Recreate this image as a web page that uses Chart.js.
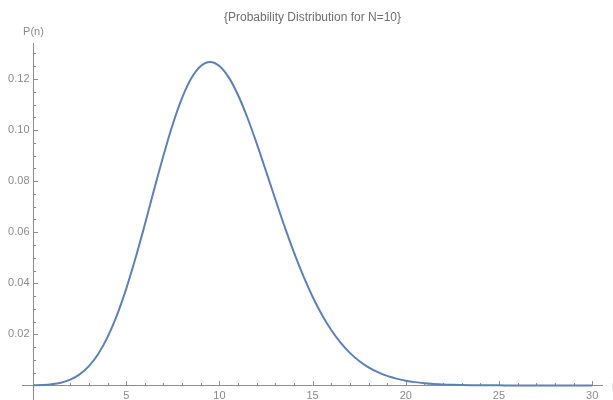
<!DOCTYPE html>
<html lang="en">
<head>
    <meta charset="UTF-8">
    <title>Probability Distribution for N=10</title>
    <script src="https://cdn.jsdelivr.net/npm/chart.js"></script>
    <style>
        body { margin: 0; background: #fff; }
        #wrap { width: 613px; height: 400px; }
    </style>
</head>
<body>
    <div id="wrap"><canvas id="distChart" width="613" height="400"></canvas></div>

    <script>
        // n values (step 0.5) and the P(n)
        const nValues = [
            0, 0.5, 1, 1.5, 2, 2.5, 3, 3.5, 4, 4.5,
            5, 5.5, 6, 6.5, 7, 7.5, 8, 8.5, 9, 9.5,
            10, 10.5, 11, 11.5, 12, 12.5, 13, 13.5, 14, 14.5,
            15, 15.5, 16, 16.5, 17, 17.5, 18, 18.5, 19, 19.5,
            20, 20.5, 21, 21.5, 22, 22.5, 23, 23.5, 24, 24.5,
            25, 25.5, 26, 26.5, 27, 27.5, 28, 28.5, 29, 29.5, 30
        ];
        const pValues = [
            0.0000454, 0.000162, 0.000454, 0.00108, 0.00227, 0.00432, 0.00757, 0.01234, 0.01892, 0.02743,
            0.03783, 0.04987, 0.06306, 0.07673, 0.09008, 0.10230, 0.11260, 0.12035, 0.12511, 0.12669,
            0.12511, 0.12065, 0.11374, 0.10492, 0.09478, 0.08393, 0.07291, 0.06217, 0.05208, 0.04288,
            0.03472, 0.02766, 0.02170, 0.01677, 0.01276, 0.00958, 0.00709, 0.00518, 0.00373, 0.00266,
            0.00187, 0.00130, 0.00089, 0.00060, 0.00040, 0.00027, 0.00018, 0.00011, 0.00007, 0.00005,
            0.00003, 0.00002, 0.00001, 0.000007, 0.000004, 0.0000025, 0.0000015, 0.0000009, 0.0000005, 0.0000003, 0.0000002
        ];

        // tick labels
        const xTickValues = [5, 10, 15, 20, 25, 30];
        const xTickLabels = ['5', '10', '15', '20', '25', '30'];
        const yTickValues = [0.02, 0.04, 0.06, 0.08, 0.10, 0.12];
        const yTickLabels = ['0.02', '0.04', '0.06', '0.08', '0.10', '0.12'];

        const axisColor = '#8c8c8c';
        const labelColor = '#8a8a8a';

        // Mathematica-style axes crossing at the origin, ticks pointing inward
        const axesPlugin = {
            id: 'originAxes',
            beforeDatasetsDraw(chart) {
                const { ctx, chartArea, scales: { x, y } } = chart;
                const x0 = Math.round(x.getPixelForValue(0)) + 0.5;
                const y0 = Math.round(y.getPixelForValue(0)) + 0.5;
                ctx.save();
                ctx.strokeStyle = axisColor;
                ctx.lineWidth = 1;

                ctx.beginPath();
                ctx.moveTo(chartArea.left, y0);
                ctx.lineTo(chartArea.right, y0);
                ctx.moveTo(x0, chartArea.top);
                ctx.lineTo(x0, chartArea.bottom);

                // x ticks: major every 5, minor every 1
                for (let v = 1; v <= 30; v++) {
                    const px = Math.round(x.getPixelForValue(v)) + 0.5;
                    const len = v % 5 === 0 ? 4.5 : 2.5;
                    ctx.moveTo(px, y0);
                    ctx.lineTo(px, y0 - len);
                }
                // y ticks: major every 0.02, minor every 0.005
                for (let k = 1; k <= 26; k++) {
                    const py = Math.round(y.getPixelForValue(k * 0.005)) + 0.5;
                    const len = k % 4 === 0 ? 4.5 : 2.5;
                    ctx.moveTo(x0, py);
                    ctx.lineTo(x0 + len, py);
                }
                ctx.stroke();

                ctx.fillStyle = labelColor;
                ctx.font = '11px "Liberation Sans", Arial, sans-serif';
                ctx.textAlign = 'center';
                ctx.textBaseline = 'middle';
                xTickValues.forEach((v, i) => {
                    ctx.fillText(xTickLabels[i], x.getPixelForValue(v), y0 + 10);
                });
                ctx.textAlign = 'right';
                yTickValues.forEach((v, i) => {
                    ctx.fillText(yTickLabels[i], x0 - 4, y.getPixelForValue(v));
                });

                // axis labels (the n label is cut off by the right edge)
                ctx.textAlign = 'center';
                ctx.fillText('P(n)', x0, 32);
                ctx.textAlign = 'left';
                ctx.fillText('n', 612, y0);
                ctx.restore();
            }
        };

        new Chart(document.getElementById('distChart'), {
            type: 'line',
            data: {
                datasets: [{
                    data: nValues.map((n, i) => ({ x: n, y: pValues[i] })),
                    borderColor: '#5e81b5',
                    borderWidth: 2,
                    pointRadius: 0,
                    fill: false,
                    cubicInterpolationMode: 'monotone'
                }]
            },
            options: {
                responsive: false,
                animation: false,
                devicePixelRatio: 1,
                layout: { padding: { left: 22, right: 10, top: 0, bottom: 0 } },
                plugins: {
                    legend: { display: false },
                    tooltip: { enabled: false },
                    title: {
                        display: true,
                        text: '{Probability Distribution for N=10}',
                        color: '#6e6e6e',
                        font: { family: '"Liberation Sans", Arial, sans-serif', size: 12, weight: 'normal' },
                        padding: { top: 10, bottom: 18.6 }
                    }
                },
                scales: {
                    x: { type: 'linear', display: false, min: -0.59, max: 30.58 },
                    y: { type: 'linear', display: false, min: -0.0057, max: 0.1341 }
                }
            },
            plugins: [axesPlugin]
        });
    </script>
</body>
</html>
